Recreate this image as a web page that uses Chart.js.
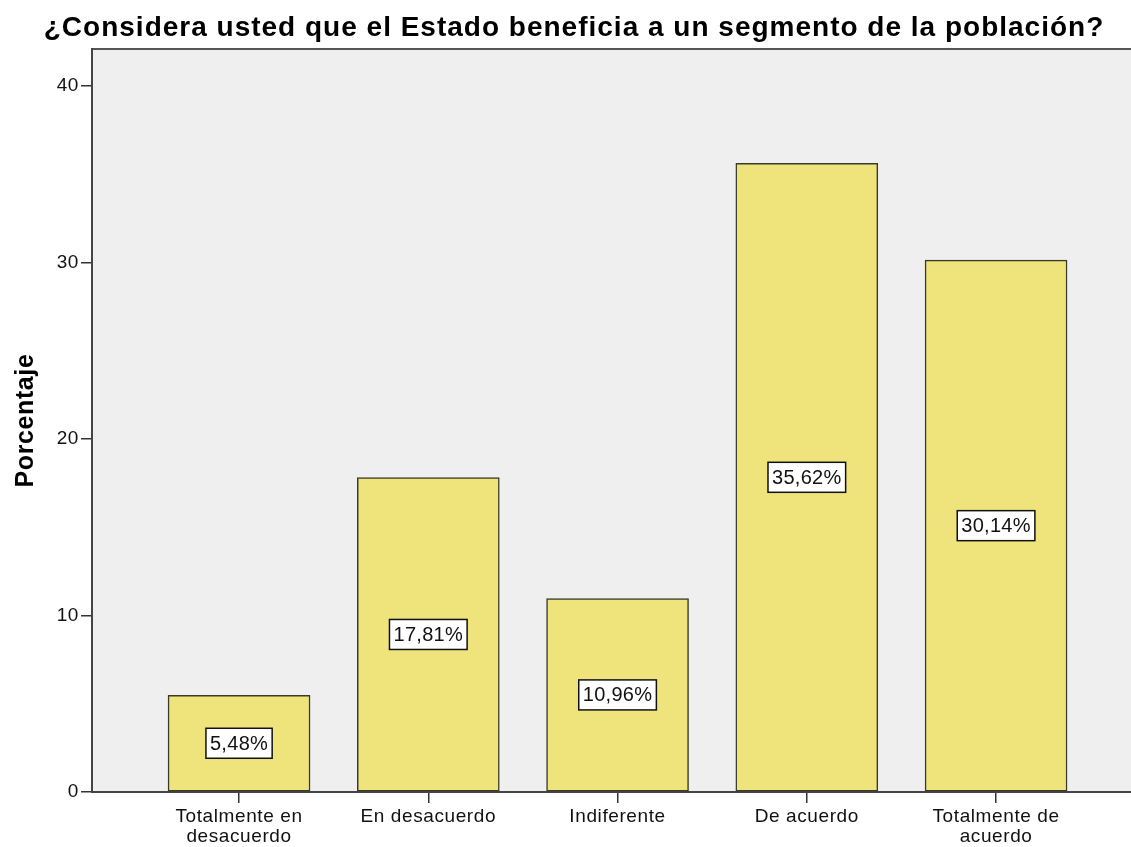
<!DOCTYPE html>
<html>
<head>
<meta charset="utf-8">
<script src="https://cdn.jsdelivr.net/npm/chart.js@4.4.1/dist/chart.umd.min.js"></script>
<style>
  html, body { margin: 0; padding: 0; background: #fff; overflow: hidden; }
  #chart { display: block; }
</style>
</head>
<body>
<canvas id="chart" width="1131" height="847"></canvas>
<script>
const categories = [
  ['Totalmente en', 'desacuerdo'],
  'En desacuerdo',
  'Indiferente',
  'De acuerdo',
  ['Totalmente de', 'acuerdo']
];
const percentages = [5.48, 17.81, 10.96, 35.62, 30.14];
const yTicks = [0, 10, 20, 30, 40];
const chartTitle = '¿Considera usted que el Estado beneficia a un segmento de la población?';

const FONT = '"Liberation Sans", Arial, sans-serif';

// slightly open letter spacing for all axis text
const spacing = {
  id: 'spacing',
  beforeUpdate(chart) { chart.ctx.letterSpacing = '0.6px'; },
  beforeDraw(chart) { chart.ctx.letterSpacing = '0.6px'; }
};

// light grey plot background, top frame line and the heading
const plotFrame = {
  id: 'plotFrame',
  beforeDraw(chart) {
    const { ctx, chartArea: a } = chart;
    ctx.save();
    ctx.fillStyle = '#efefef';
    ctx.fillRect(a.left, a.top, a.right - a.left, a.bottom - a.top);
    ctx.strokeStyle = '#555';
    ctx.lineWidth = 2;
    ctx.beginPath();
    ctx.moveTo(a.left, a.top);
    ctx.lineTo(a.right, a.top);
    ctx.stroke();

    ctx.letterSpacing = '1px';
    ctx.font = 'bold 28px ' + FONT;
    ctx.fillStyle = '#000';
    ctx.textAlign = 'center';
    ctx.textBaseline = 'alphabetic';
    ctx.fillText(chartTitle, 574, 36);
    ctx.restore();
  }
};

// boxed percentage in the middle of each bar
const valueBoxes = {
  id: 'valueBoxes',
  afterDatasetsDraw(chart) {
    const { ctx } = chart;
    const meta = chart.getDatasetMeta(0);
    ctx.save();
    ctx.letterSpacing = '0.3px';
    ctx.font = '20px ' + FONT;
    ctx.textAlign = 'center';
    ctx.textBaseline = 'middle';
    meta.data.forEach((bar, i) => {
      const text = percentages[i].toFixed(2).replace('.', ',') + '%';
      const cx = bar.x;
      const cy = (bar.y + bar.base) / 2;
      const w = ctx.measureText(text).width + 8;
      const h = 30;
      ctx.fillStyle = '#fff';
      ctx.fillRect(cx - w / 2, cy - h / 2, w, h);
      ctx.strokeStyle = '#111';
      ctx.lineWidth = 1.5;
      ctx.strokeRect(cx - w / 2, cy - h / 2, w, h);
      ctx.fillStyle = '#111';
      ctx.fillText(text, cx, cy + 1);
    });
    ctx.restore();
  }
};

new Chart(document.getElementById('chart'), {
  type: 'bar',
  data: {
    datasets: [{
      data: percentages.map((v, i) => ({ x: i, y: v })),
      backgroundColor: '#efe37b',
      borderColor: '#3a3a2a',
      borderWidth: 1.5,
      borderSkipped: false,
      barThickness: 142
    }]
  },
  options: {
    responsive: false,
    animation: false,
    layout: { padding: { top: 49, left: 0, right: 0, bottom: 0 } },
    plugins: {
      legend: { display: false },
      tooltip: { enabled: false },
      title: { display: false }
    },
    scales: {
      x: {
        type: 'linear',
        offset: false,
        min: -0.777,
        max: 4.713,
        afterBuildTicks: s => { s.ticks = categories.map((c, i) => ({ value: i })); },
        afterFit: s => { s.height = 55; },
        ticks: {
          callback: v => categories[v],
          color: '#111',
          padding: 4,
          maxRotation: 0,
          autoSkip: false,
          font: { family: FONT, size: 19, lineHeight: 1.05 }
        },
        grid: { offset: false, drawOnChartArea: false, tickLength: 11, color: '#333', lineWidth: 1.5 },
        border: { display: true, color: '#444', width: 2 }
      },
      y: {
        min: 0,
        max: 42.1,
        afterBuildTicks: s => { s.ticks = yTicks.map(v => ({ value: v })); },
        afterFit: s => { s.width = 92; },
        ticks: {
          color: '#111',
          padding: 2,
          font: { family: FONT, size: 19 }
        },
        grid: { drawOnChartArea: false, tickLength: 11, color: '#333', lineWidth: 1.5 },
        border: { display: true, color: '#444', width: 2 },
        title: {
          display: true,
          text: 'Porcentaje',
          color: '#000',
          font: { family: FONT, size: 25, weight: 'bold' },
          padding: { top: 11, bottom: 0 }
        }
      }
    }
  },
  plugins: [spacing, plotFrame, valueBoxes]
});
</script>
</body>
</html>
